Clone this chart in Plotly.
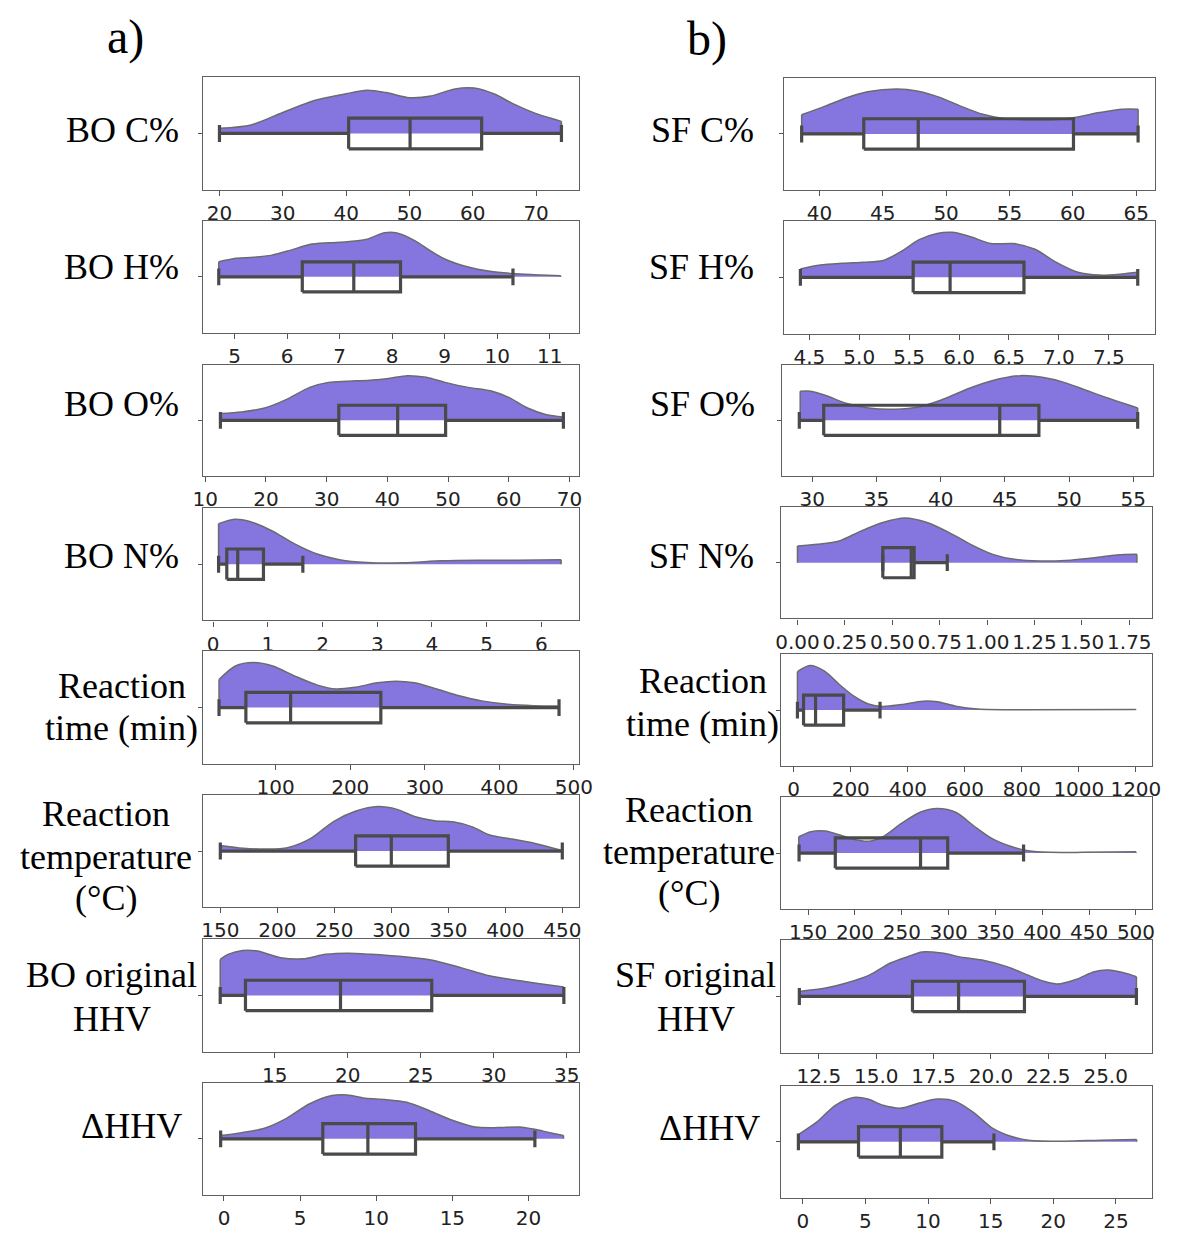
import plotly.graph_objects as go

W, H = 1179, 1233

# ---------------- DATA ----------------
# density curves: x positions and relative half-violin heights; box stats: [min, q1, median, q3, max]
BO_C_X = [20, 25, 30, 35, 40, 43.3, 46.3, 50, 53.4, 57, 60.2, 63.5, 66.4, 70, 73.5, 74.0]
BO_C_H = [0.09, 0.15, 0.37, 0.58, 0.70, 0.76, 0.72, 0.63, 0.66, 0.78, 0.80, 0.69, 0.52, 0.35, 0.23, 0.21]
BO_C_STATS = [20, 40.4, 50.1, 61.4, 74.0]
BO_C_TICKS = [20, 30, 40, 50, 60, 70]

SF_C_X = [38.6, 40.4, 42.1, 43.8, 46.1, 47.8, 49.5, 51.2, 52.9, 54.4, 56.4, 58.1, 59.8, 62.1, 63.9, 65.15]
SF_C_H = [0.34, 0.49, 0.64, 0.75, 0.80, 0.76, 0.65, 0.49, 0.35, 0.28, 0.25, 0.25, 0.28, 0.38, 0.44, 0.44]
SF_C_STATS = [38.6, 43.5, 47.8, 60.05, 65.15]
SF_C_TICKS = [40, 45, 50, 55, 60, 65]

BO_H_X = [4.7, 5.0, 5.36, 5.71, 6.07, 6.43, 6.79, 7.14, 7.5, 7.86, 8.07, 8.43, 8.71, 9.0, 9.43, 9.86, 10.3, 10.7, 11.21]
BO_H_H = [0.27, 0.33, 0.35, 0.39, 0.48, 0.58, 0.61, 0.63, 0.67, 0.79, 0.79, 0.65, 0.48, 0.32, 0.18, 0.10, 0.06, 0.04, 0.02]
BO_H_STATS = [4.7, 6.29, 7.27, 8.16, 10.3]
BO_H_TICKS = [5, 6, 7, 8, 9, 10, 11]

SF_H_X = [4.41, 4.61, 4.83, 5.05, 5.24, 5.42, 5.6, 5.78, 5.93, 6.1, 6.32, 6.54, 6.76, 6.97, 7.19, 7.41, 7.63, 7.79]
SF_H_H = [0.15, 0.22, 0.25, 0.27, 0.30, 0.46, 0.67, 0.78, 0.80, 0.73, 0.60, 0.60, 0.50, 0.27, 0.09, 0.04, 0.06, 0.09]
SF_H_STATS = [4.41, 5.54, 5.91, 6.65, 7.79]
SF_H_TICKS = [4.5, 5.0, 5.5, 6.0, 6.5, 7.0, 7.5]

BO_O_X = [12.5, 16, 19.8, 23.5, 27.2, 30.3, 33.4, 37.1, 40.2, 43.3, 46.4, 49.5, 53.3, 57, 60, 63.1, 66.2, 69]
BO_O_H = [0.12, 0.15, 0.22, 0.38, 0.59, 0.68, 0.70, 0.72, 0.75, 0.80, 0.77, 0.68, 0.59, 0.53, 0.41, 0.22, 0.10, 0.06]
BO_O_STATS = [12.5, 32.0, 41.7, 49.6, 69.0]
BO_O_TICKS = [10, 20, 30, 40, 50, 60, 70]

SF_O_X = [29.07, 29.86, 31, 32.7, 34.4, 36.4, 38.3, 40, 42.3, 44, 46.2, 47.9, 49.6, 51.3, 53, 54.7, 55.34]
SF_O_H = [0.52, 0.52, 0.45, 0.30, 0.22, 0.20, 0.24, 0.36, 0.58, 0.71, 0.80, 0.77, 0.68, 0.54, 0.40, 0.27, 0.22]
SF_O_STATS = [29.0, 30.9, 44.6, 47.65, 55.34]
SF_O_TICKS = [30, 35, 40, 45, 50, 55]

BO_N_X = [0.10, 0.39, 0.67, 1.08, 1.49, 1.9, 2.31, 2.8, 3.48, 4.17, 4.85, 5.54, 6.36]
BO_N_H = [0.72, 0.80, 0.76, 0.59, 0.36, 0.18, 0.08, 0.03, 0.024, 0.06, 0.07, 0.07, 0.077]
BO_N_STATS = [0.10, 0.25, 0.45, 0.92, 1.64]
BO_N_TICKS = [0, 1, 2, 3, 4, 5, 6]

SF_N_X = [0.0, 0.106, 0.22, 0.337, 0.45, 0.567, 0.683, 0.8, 0.913, 1.03, 1.144, 1.28, 1.413, 1.567, 1.683, 1.79]
SF_N_H = [0.30, 0.33, 0.39, 0.57, 0.72, 0.80, 0.72, 0.54, 0.33, 0.15, 0.06, 0.03, 0.04, 0.09, 0.14, 0.15]
SF_N_STATS = [0.45, 0.45, 0.60, 0.615, 0.79]
SF_N_TICKS = [0.0, 0.25, 0.5, 0.75, 1.0, 1.25, 1.5, 1.75]

BO_TIME_X = [24, 46, 70, 96, 126, 156, 181, 206, 236, 261, 286, 316, 346, 376, 411, 446, 480]
BO_TIME_H = [0.50, 0.74, 0.80, 0.74, 0.56, 0.40, 0.33, 0.36, 0.44, 0.47, 0.44, 0.33, 0.21, 0.12, 0.06, 0.035, 0.03]
BO_TIME_STATS = [24, 60, 120, 241, 480]
BO_TIME_TICKS = [100, 200, 300, 400, 500]

SF_TIME_X = [13, 57, 108, 160, 211, 262, 313, 377, 453, 504, 568, 645, 824, 1200]
SF_TIME_H = [0.69, 0.80, 0.70, 0.46, 0.25, 0.11, 0.066, 0.10, 0.16, 0.15, 0.07, 0.02, 0.006, 0.012]
SF_TIME_STATS = [13, 34.5, 76.6, 175, 302.7]
SF_TIME_TICKS = [0, 200, 400, 600, 800, 1000, 1200]

BO_TEMP_X = [150, 170, 190, 209, 229, 249, 269, 288, 305, 321, 338, 354, 371, 387, 404, 427, 450]
BO_TEMP_H = [0.10, 0.05, 0.036, 0.06, 0.22, 0.52, 0.71, 0.79, 0.74, 0.61, 0.54, 0.52, 0.43, 0.28, 0.22, 0.13, 0.01]
BO_TEMP_STATS = [150, 268.7, 300, 350, 450]
BO_TEMP_TICKS = [150, 200, 250, 300, 350, 400, 450]

SF_TEMP_X = [140, 153, 168, 184, 199, 215, 230, 250, 269, 288, 308, 327, 346, 366, 385, 408, 443, 500]
SF_TEMP_H = [0.29, 0.38, 0.39, 0.32, 0.24, 0.21, 0.29, 0.53, 0.72, 0.79, 0.72, 0.48, 0.26, 0.12, 0.04, 0.012, 0.012, 0.024]
SF_TEMP_STATS = [140.3, 179, 270, 299, 380]
SF_TEMP_TICKS = [150, 200, 250, 300, 350, 400, 450, 500]

BO_HHV_X = [11.26, 11.8, 12.8, 13.8, 15.4, 16.9, 18.5, 20, 21.6, 23.7, 25.7, 27.8, 29.7, 31.8, 33.4, 34.8]
BO_HHV_H = [0.64, 0.73, 0.80, 0.79, 0.67, 0.65, 0.73, 0.75, 0.73, 0.69, 0.63, 0.49, 0.35, 0.26, 0.20, 0.15]
BO_HHV_STATS = [11.26, 12.99, 19.5, 25.75, 34.8]
BO_HHV_TICKS = [15, 20, 25, 30, 35]

SF_HHV_X = [11.65, 12.8, 13.7, 14.7, 15.6, 16.4, 17.0, 17.85, 18.8, 19.7, 20.7, 21.6, 22.3, 22.9, 23.7, 24.5, 25.1, 25.9, 26.34]
SF_HHV_H = [0.09, 0.15, 0.24, 0.38, 0.59, 0.71, 0.79, 0.77, 0.69, 0.64, 0.53, 0.38, 0.27, 0.22, 0.30, 0.44, 0.47, 0.41, 0.35]
SF_HHV_STATS = [11.65, 16.58, 18.59, 21.46, 26.34]
SF_HHV_TICKS = [12.5, 15.0, 17.5, 20.0, 22.5, 25.0]

BO_DHHV_X = [-0.22, 1.18, 2.66, 4.14, 5.6, 7.1, 8.1, 9.3, 10.55, 12.0, 13.5, 15, 16.5, 18, 19.4, 20.4, 21.4, 22.3]
BO_DHHV_H = [0.06, 0.11, 0.19, 0.37, 0.62, 0.77, 0.78, 0.72, 0.70, 0.65, 0.50, 0.33, 0.21, 0.20, 0.21, 0.17, 0.11, 0.06]
BO_DHHV_STATS = [-0.22, 6.49, 9.45, 12.58, 20.42]
BO_DHHV_TICKS = [0, 5, 10, 15, 20]

SF_DHHV_X = [-0.35, 1.16, 2.6, 4.07, 5.2, 6.4, 7.85, 9.3, 10.75, 12.2, 13.7, 15.1, 16.6, 18.0, 20.9, 23.8, 26.65]
SF_DHHV_H = [0.13, 0.36, 0.65, 0.79, 0.76, 0.65, 0.60, 0.69, 0.76, 0.72, 0.51, 0.25, 0.10, 0.03, 0.012, 0.03, 0.04]
SF_DHHV_STATS = [-0.35, 4.45, 7.79, 11.1, 15.26]
SF_DHHV_TICKS = [0, 5, 10, 15, 20, 25]

LEFT_LABELS = ["BO C%", "BO H%", "BO O%", "BO N%", "Reaction<br>time (min)",
               "Reaction<br>temperature<br>(°C)", "BO original<br>HHV", "ΔHHV"]
RIGHT_LABELS = ["SF C%", "SF H%", "SF O%", "SF N%", "Reaction<br>time (min)",
                "Reaction<br>temperature<br>(°C)", "SF original<br>HHV", "ΔHHV"]

# ---------------- LAYOUT / STYLE ----------------
VIOLIN_FILL = "#8575DE"
VIOLIN_LINE = "#6b6b6b"
BOX_LINE = "#4a4a4a"
FRAME = "#606060"
SERIF = "Liberation Serif, Times New Roman, serif"
SANS = "DejaVu Sans, sans-serif"
BOX_HALF = 0.27      # half box height (axis units, frame half height = 1)
CAP_HALF = 0.15      # half whisker-cap height

# (x, h, stats, ticks, tick format, axis range, frame px left/right, frame px top/bottom)
panels = [
    (BO_C_X, BO_C_H, BO_C_STATS, BO_C_TICKS, "{:.0f}", [17.4, 76.8], (197, 581), (77, 191)),
    (BO_H_X, BO_H_H, BO_H_STATS, BO_H_TICKS, "{:.0f}", [4.4, 11.56], (197, 581), (222, 334)),
    (BO_O_X, BO_O_H, BO_O_STATS, BO_O_TICKS, "{:.0f}", [9.63, 71.6], (197, 581), (366, 478)),
    (BO_N_X, BO_N_H, BO_N_STATS, BO_N_TICKS, "{:.0f}", [-0.185, 6.69], (197, 581), (510, 623)),
    (BO_TIME_X, BO_TIME_H, BO_TIME_STATS, BO_TIME_TICKS, "{:.0f}", [2.5, 507], (197, 581), (654, 767)),
    (BO_TEMP_X, BO_TEMP_H, BO_TEMP_STATS, BO_TEMP_TICKS, "{:.0f}", [134.8, 464.8], (197, 581), (798, 911)),
    (BO_HHV_X, BO_HHV_H, BO_HHV_STATS, BO_HHV_TICKS, "{:.0f}", [10.08, 35.85], (197, 581), (943, 1056)),
    (BO_DHHV_X, BO_DHHV_H, BO_DHHV_STATS, BO_DHHV_TICKS, "{:.0f}", [-1.38, 23.33], (197, 581), (1087, 1200)),
    (SF_C_X, SF_C_H, SF_C_STATS, SF_C_TICKS, "{:.0f}", [37.2, 66.5], (790, 1169), (78, 191)),
    (SF_H_X, SF_H_H, SF_H_STATS, SF_H_TICKS, "{:.1f}", [4.245, 7.965], (790, 1169), (222, 335)),
    (SF_O_X, SF_O_H, SF_O_STATS, SF_O_TICKS, "{:.0f}", [27.65, 56.55], (788, 1167), (366, 478)),
    (SF_N_X, SF_N_H, SF_N_STATS, SF_N_TICKS, "{:.2f}", [-0.087, 1.871], (787, 1166), (509, 621)),
    (SF_TIME_X, SF_TIME_H, SF_TIME_STATS, SF_TIME_TICKS, "{:.0f}", [-44.7, 1257.5], (787, 1166), (657, 769)),
    (SF_TEMP_X, SF_TEMP_H, SF_TEMP_STATS, SF_TEMP_TICKS, "{:.0f}", [121, 517.4], (787, 1166), (800, 913)),
    (SF_HHV_X, SF_HHV_H, SF_HHV_STATS, SF_HHV_TICKS, "{:.1f}", [10.85, 27.03], (787, 1166), (944, 1057)),
    (SF_DHHV_X, SF_DHHV_H, SF_DHHV_STATS, SF_DHHV_TICKS, "{:.0f}", [-1.74, 27.9], (787, 1166), (1090, 1203)),
]

# label positions: (anchor px x, xanchor, list of line-centre px y)
left_label_pos = [(175, "right", [131]), (175, "right", [268]), (175, "right", [406]), (175, "right", [558]),
                  (114, "center", [689, 731]), (98, "center", [817, 860, 902]),
                  (104, "center", [979, 1023]), (178, "right", [1131])]
right_label_pos = [(761, "right", [131]), (761, "right", [268]), (763, "right", [406]), (761, "right", [558]),
                   (707, "center", [684, 727]), (693, "center", [813, 855, 897]),
                   (700, "center", [979, 1023]), (768, "right", [1133])]

fig = go.Figure()
layout = dict(width=W, height=H, margin=dict(l=0, r=0, t=0, b=0),
              paper_bgcolor="white", plot_bgcolor="white", showlegend=False)

for i, (xs, hs, st, ticks, fmt, rng, (px0, px1), (py0, py1)) in enumerate(panels):
    n = i + 1
    xa = "x" if n == 1 else f"x{n}"
    ya = "y" if n == 1 else f"y{n}"
    lo, q1, med, q3, hi = st
    # half violin
    fig.add_trace(go.Scatter(x=xs, y=hs, xaxis=xa, yaxis=ya, mode="lines",
                             line=dict(color=VIOLIN_LINE, width=1.5, shape="spline", smoothing=0.8),
                             fill="tozeroy", fillcolor=VIOLIN_FILL, hoverinfo="skip"))
    # violin end edges
    fig.add_trace(go.Scatter(x=[xs[0], xs[0], None, xs[-1], xs[-1]], y=[0, hs[0], None, hs[-1], 0],
                             xaxis=xa, yaxis=ya, mode="lines",
                             line=dict(color=VIOLIN_LINE, width=1.5), hoverinfo="skip"))
    # box plot (unfilled box, median, whiskers, caps) from the statistics
    bx = [q1, q3, q3, q1, q1, None, med, med, None, lo, q1, None, q3, hi, None, lo, lo, None, hi, hi]
    by = [-BOX_HALF, -BOX_HALF, BOX_HALF, BOX_HALF, -BOX_HALF, None, -BOX_HALF, BOX_HALF, None,
          0, 0, None, 0, 0, None, -CAP_HALF, CAP_HALF, None, -CAP_HALF, CAP_HALF]
    fig.add_trace(go.Scatter(x=bx, y=by, xaxis=xa, yaxis=ya, mode="lines",
                             line=dict(color=BOX_LINE, width=3.2), hoverinfo="skip"))
    axis_common = dict(showline=True, mirror=True, linecolor=FRAME, linewidth=1.2,
                       showgrid=False, zeroline=False, ticks="outside", tickcolor="#555",
                       tickwidth=1)
    layout["xaxis" if n == 1 else f"xaxis{n}"] = dict(
        domain=[px0 / W, px1 / W], range=rng, anchor=ya,
        tickvals=ticks, ticktext=[fmt.format(t) for t in ticks], ticklen=5,
        tickfont=dict(family=SANS, size=20, color="#222"), **axis_common)
    layout["yaxis" if n == 1 else f"yaxis{n}"] = dict(
        domain=[1 - py1 / H, 1 - py0 / H], range=[-1, 1], anchor=xa,
        tickvals=[0], showticklabels=False, ticklen=4, **axis_common)

annotations = []
for labels, positions in ((LEFT_LABELS, left_label_pos), (RIGHT_LABELS, right_label_pos)):
    for text, (ax, anchor, ys) in zip(labels, positions):
        for line, yy in zip(text.split("<br>"), ys):
            annotations.append(dict(text=line, x=ax / W, y=1 - yy / H, xref="paper", yref="paper",
                                    xanchor=anchor, yanchor="middle", showarrow=False,
                                    font=dict(family=SERIF, size=36, color="black")))
annotations.append(dict(text="a)", x=118 / W, y=1 - 37 / H, xref="paper", yref="paper",
                        xanchor="center", yanchor="middle", showarrow=False,
                        font=dict(family=SERIF, size=48, color="black")))
annotations.append(dict(text="b)", x=711 / W, y=1 - 39 / H, xref="paper", yref="paper",
                        xanchor="center", yanchor="middle", showarrow=False,
                        font=dict(family=SERIF, size=48, color="black")))
layout["annotations"] = annotations

fig.update_layout(**layout)
fig.write_html("out.html")
